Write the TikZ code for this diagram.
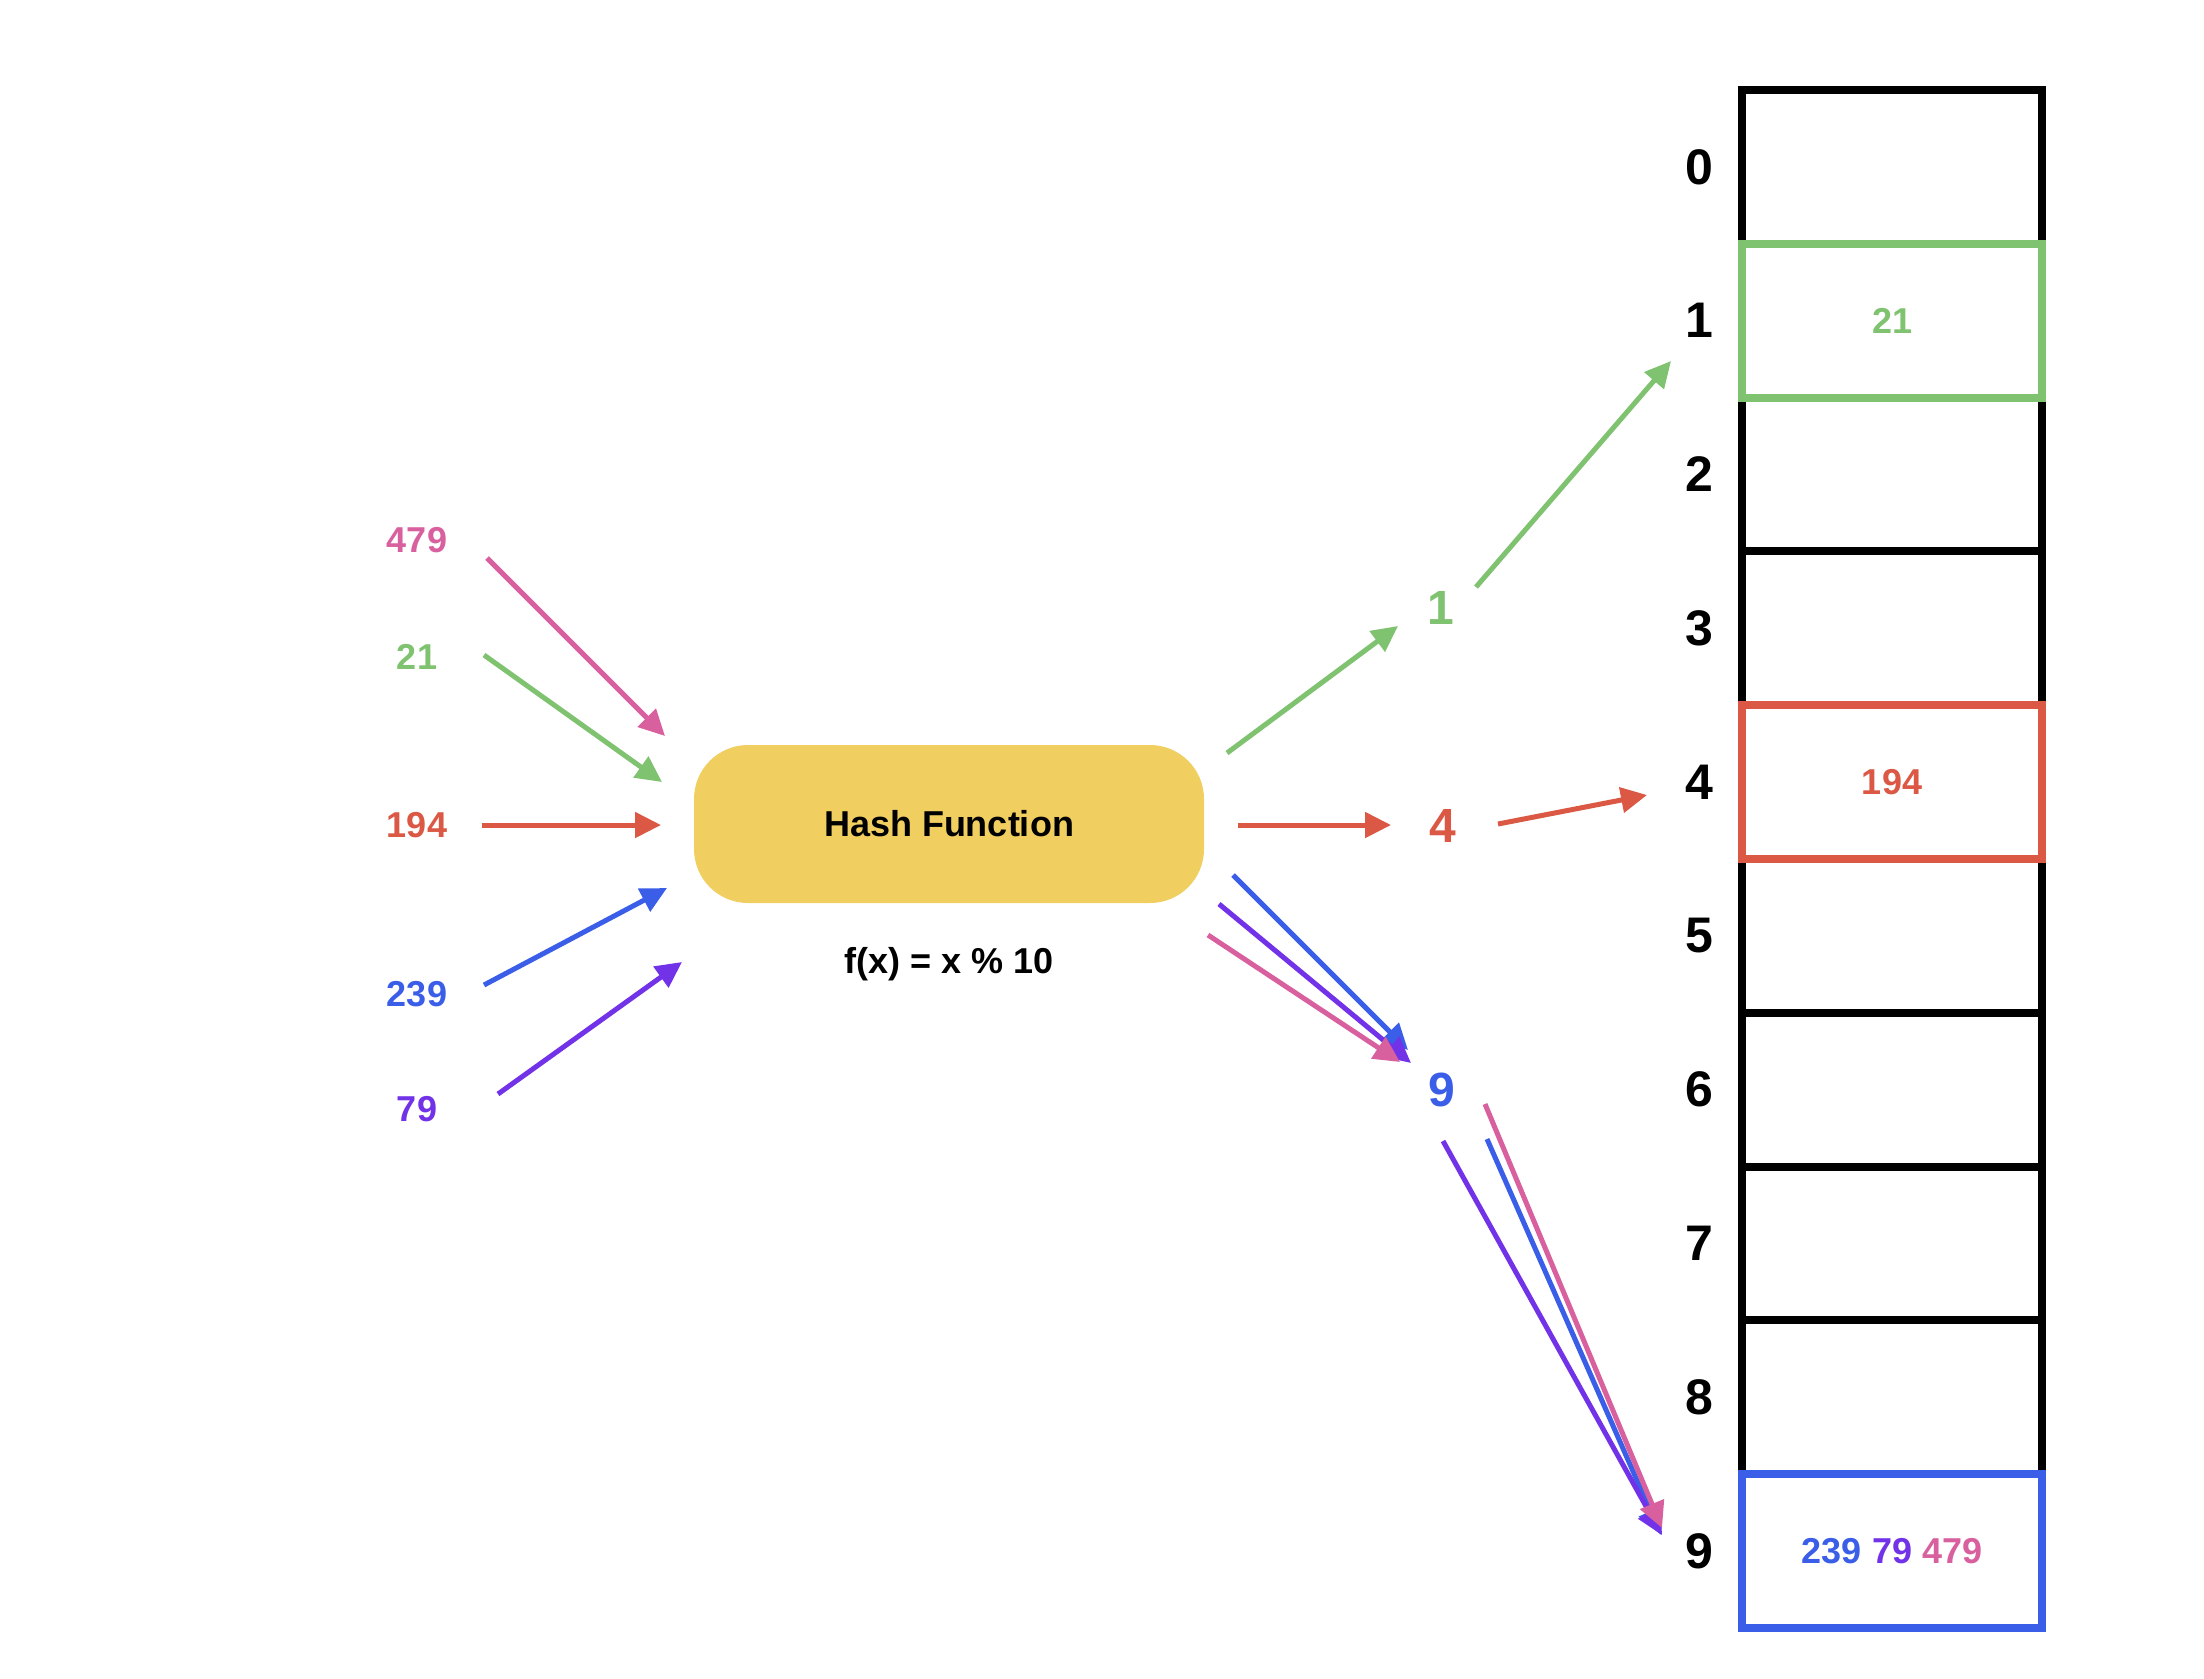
\documentclass[tikz,border=0pt]{standalone}
\usepackage{fontspec}
\setmainfont{Liberation Sans}
\usetikzlibrary{arrows.meta,positioning}

\definecolor{keypink}{RGB}{217,96,158}
\definecolor{keygreen}{RGB}{127,194,112}
\definecolor{keyred}{RGB}{218,88,68}
\definecolor{keyblue}{RGB}{58,94,232}
\definecolor{keypurple}{RGB}{113,50,232}
\definecolor{hashyellow}{RGB}{240,206,96}

\begin{document}
\begin{tikzpicture}[x=0.5pt,y=-0.5pt,>={Triangle[length=13pt,width=12.5pt]},
  flow/.style={->,line width=2.5pt},
  key node/.style={inner sep=0pt,font=\fontsize{18}{20}\selectfont\bfseries},
  hash node/.style={key node,fill=hashyellow,rounded corners=27pt,
    minimum width=255pt,minimum height=79pt},
  bucket node/.style={inner sep=0pt,font=\fontsize{24}{28}\selectfont\bfseries},
  index node/.style={inner sep=0pt,font=\fontsize{25}{28}\selectfont\bfseries},
  slot node/.style={draw,line width=4pt,inner sep=0pt,minimum width=150pt,
    minimum height=76.9pt,font=\fontsize{18}{20}\selectfont\bfseries}]

  \useasboundingbox (0,0) rectangle (2204,1678);

  % keys
  \node[key node,text=keypink]   (k479) at (417,540)  {479};
  \node[key node,text=keygreen]  (k21)  at (417,657)  {21};
  \node[key node,text=keyred]    (k194) at (417,825)  {194};
  \node[key node,text=keyblue]   (k239) at (417,994)  {239};
  \node[key node,text=keypurple] (k79)  at (417,1109) {79};

  \node[hash node] (hash) at (949,824) {Hash Function};
  \node[key node] (formula) [below=22pt of hash] {f(x) = x \% 10};

  % hash values
  \node[bucket node,text=keygreen] (h1) at (1441,608)  {1};
  \node[bucket node,text=keyred]   (h4) at (1443,826)  {4};
  \node[bucket node,text=keyblue]  (h9) at (1442,1090) {9};

  % table
  \foreach \i in {0,2,3,5,6,7,8}
    \node[slot node] (slot\i) at (1892,{166.9+153.8*\i}) {};
  \node[slot node,draw=keygreen,text=keygreen] (slot1) at (1892,320.7) {21};
  \node[slot node,draw=keyred,text=keyred] (slot4) at (1892,782.1) {194};
  \node[slot node,draw=keyblue] (slot9) at (1892,1551.1)
    {\textcolor{keyblue}{239} \textcolor{keypurple}{79} \textcolor{keypink}{479}};
  \foreach \i in {0,...,9}
    \node[index node] (idx\i) [left=12pt of slot\i] {\i};

  % arrows
  \foreach \n/\c/\sx/\sy/\ex/\ey in {
      a479/keypink/487/558/665/736, a21/keygreen/484/655/662/782,
      a194/keyred/482/825/661/825, a239/keyblue/484/985/667/888,
      a79/keypurple/498/1094/682/962,
      g1/keygreen/1227/753/1398/626, g2/keygreen/1476/587/1671/361,
      r1/keyred/1238/825/1391/825, r2/keyred/1498/824/1647/795,
      b1/keyblue/1233/875/1408/1050, p1/keypurple/1219/904/1411/1063,
      k1/keypink/1208/935/1400/1062,
      b2/keyblue/1487/1139/1661/1535, p2/keypurple/1443/1141/1662/1535,
      k2/keypink/1485/1104/1662/1528} {
    \coordinate (\n-from) at (\sx,\sy);
    \coordinate (\n-to) at (\ex,\ey);
    \draw[flow,\c] (\n-from) -- (\n-to);
  }
\end{tikzpicture}
\end{document}
